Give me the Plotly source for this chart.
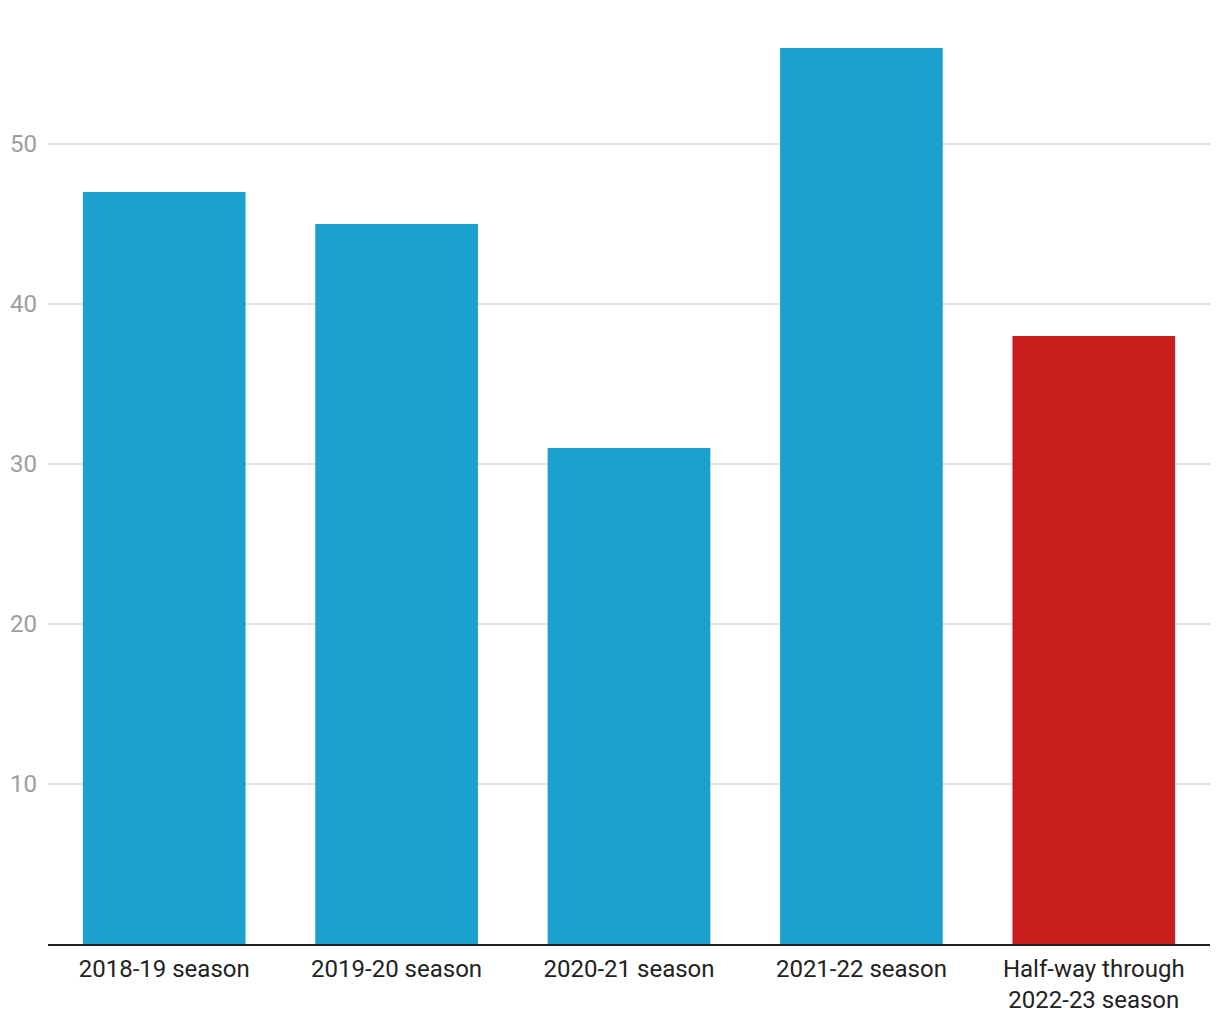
import plotly.graph_objects as go

categories = ["2018-19 season", "2019-20 season", "2020-21 season", "2021-22 season",
              "Half-way through<br>2022-23 season"]
values = [47, 45, 31, 56, 38]
colors = ["#1aa1cd", "#1aa1cd", "#1aa1cd", "#1aa1cd", "#c91e1e"]
yticks = [10, 20, 30, 40, 50]

fig = go.Figure(go.Bar(x=categories, y=values, marker=dict(color=colors, line=dict(width=0)),
                       hoverinfo="x+y"))
fig.update_layout(
    width=1220, height=1020,
    margin=dict(l=40, r=18, t=0, b=84),
    plot_bgcolor="white", paper_bgcolor="white",
    bargap=0.3,
    showlegend=False,
    font=dict(family="Roboto", size=24, color="#222222"),
)
fig.update_xaxes(showline=True, linecolor="#222222", linewidth=2, ticks="",
                 tickfont=dict(size=24, color="#222222"), showgrid=False,
                 automargin=False, ticklabelstandoff=2)
fig.update_yaxes(range=[0, 58.5], tickvals=yticks, showgrid=True, gridcolor="#e2e2e2",
                 gridwidth=1.5, zeroline=False, tickfont=dict(size=24, color="#9e9e9e"),
                 ticklabelstandoff=10, automargin=False)
fig.write_html("out.html")
